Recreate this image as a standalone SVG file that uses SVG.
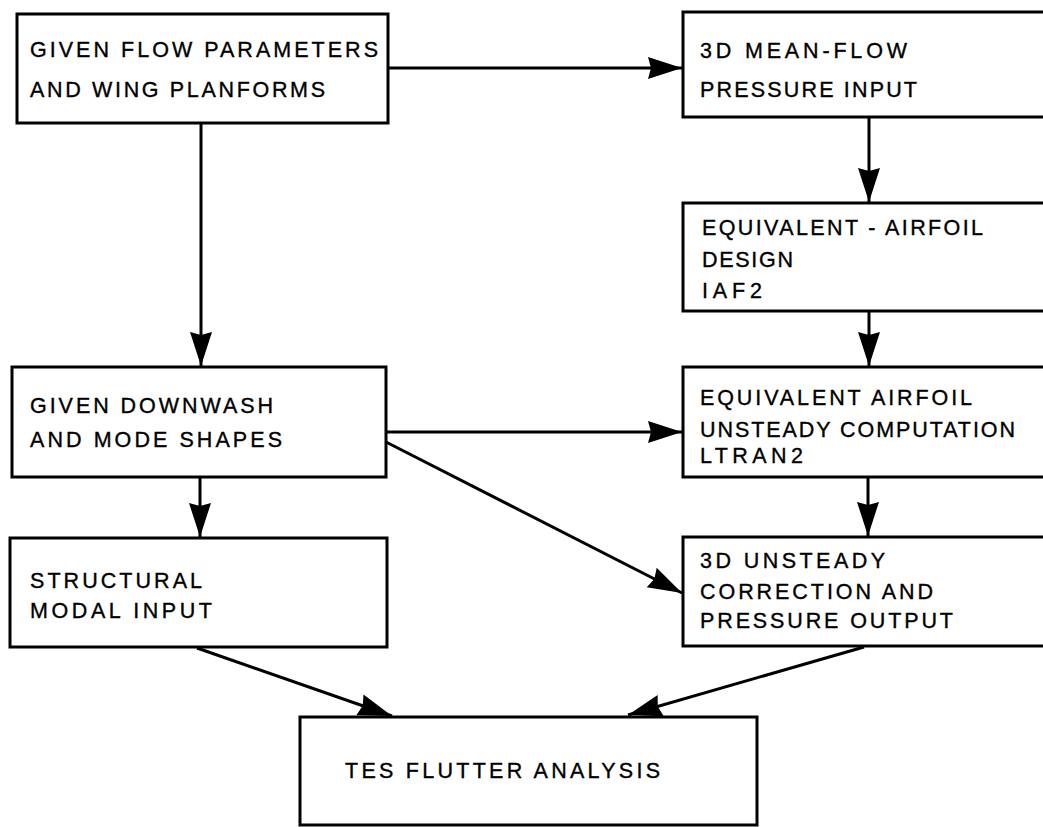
<svg xmlns="http://www.w3.org/2000/svg" width="1043" height="827" viewBox="0 0 1043 827">
<style>
.box{fill:#fff;stroke:#000;stroke-width:3}
.t{font-family:"Liberation Sans",Arial,sans-serif;font-size:21.5px;fill:#000;stroke:#000;stroke-width:0.35}
.c{fill:none;stroke:#000;stroke-width:3}
</style>
<defs>
<marker id="ah" markerUnits="userSpaceOnUse" markerWidth="36" markerHeight="24" refX="34" refY="11" orient="auto" viewBox="0 0 36 24">
<path d="M0,0 L34,11 L0,22 L3,11 z" fill="#000"/>
</marker>
</defs>
<rect width="1043" height="827" fill="#fff"/>
<g id="connectors">
<line class="c" x1="388" y1="68" x2="682" y2="68" marker-end="url(#ah)"/>
<line class="c" x1="201" y1="123" x2="201" y2="366" marker-end="url(#ah)"/>
<line class="c" x1="869" y1="117" x2="869" y2="202" marker-end="url(#ah)"/>
<line class="c" x1="869" y1="311" x2="869" y2="366" marker-end="url(#ah)"/>
<line class="c" x1="386" y1="432" x2="682" y2="432" marker-end="url(#ah)"/>
<line class="c" x1="386" y1="442" x2="682" y2="593" marker-end="url(#ah)"/>
<line class="c" x1="200" y1="477" x2="200" y2="537" marker-end="url(#ah)"/>
<line class="c" x1="868" y1="477" x2="868" y2="536" marker-end="url(#ah)"/>
<line class="c" x1="197" y1="648" x2="392" y2="716" marker-end="url(#ah)"/>
<line class="c" x1="864" y1="647" x2="628" y2="715" marker-end="url(#ah)"/>
</g>
<g id="n1">
<rect class="box" x="17" y="14" width="371" height="109"/>
<text class="t" x="30" y="57" textLength="348" lengthAdjust="spacing">GIVEN FLOW PARAMETERS</text>
<text class="t" x="30" y="97" textLength="295" lengthAdjust="spacing">AND WING PLANFORMS</text>
</g>
<g id="n2">
<rect class="box" x="683" y="12" width="370" height="105"/>
<text class="t" x="700" y="58" textLength="207" lengthAdjust="spacing">3D MEAN-FLOW</text>
<text class="t" x="700" y="97" textLength="217" lengthAdjust="spacing">PRESSURE INPUT</text>
</g>
<g id="n3">
<rect class="box" x="683" y="203" width="370" height="108"/>
<text class="t" x="702" y="235" textLength="281" lengthAdjust="spacing">EQUIVALENT - AIRFOIL</text>
<text class="t" x="702" y="267" textLength="91" lengthAdjust="spacing">DESIGN</text>
<text class="t" x="702" y="298" textLength="60" lengthAdjust="spacing">IAF2</text>
</g>
<g id="n4">
<rect class="box" x="683" y="367" width="370" height="110"/>
<text class="t" x="700" y="405" textLength="272" lengthAdjust="spacing">EQUIVALENT AIRFOIL</text>
<text class="t" x="700" y="437" textLength="315" lengthAdjust="spacing">UNSTEADY COMPUTATION</text>
<text class="t" x="700" y="463" textLength="103" lengthAdjust="spacing">LTRAN2</text>
</g>
<g id="n5">
<rect class="box" x="683" y="537" width="370" height="109"/>
<text class="t" x="700" y="568" textLength="185" lengthAdjust="spacing">3D UNSTEADY</text>
<text class="t" x="700" y="599" textLength="233" lengthAdjust="spacing">CORRECTION AND</text>
<text class="t" x="700" y="628" textLength="253" lengthAdjust="spacing">PRESSURE OUTPUT</text>
</g>
<g id="n6">
<rect class="box" x="12" y="367" width="374" height="110"/>
<text class="t" x="30" y="413" textLength="243" lengthAdjust="spacing">GIVEN DOWNWASH</text>
<text class="t" x="30" y="447" textLength="252" lengthAdjust="spacing">AND MODE SHAPES</text>
</g>
<g id="n7">
<rect class="box" x="10" y="538" width="377" height="109"/>
<text class="t" x="30" y="588" textLength="172" lengthAdjust="spacing">STRUCTURAL</text>
<text class="t" x="30" y="618" textLength="182" lengthAdjust="spacing">MODAL INPUT</text>
</g>
<g id="n8">
<rect class="box" x="300" y="717" width="457" height="108"/>
<text class="t" x="345" y="778" textLength="315" lengthAdjust="spacing">TES FLUTTER ANALYSIS</text>
</g>
</svg>
